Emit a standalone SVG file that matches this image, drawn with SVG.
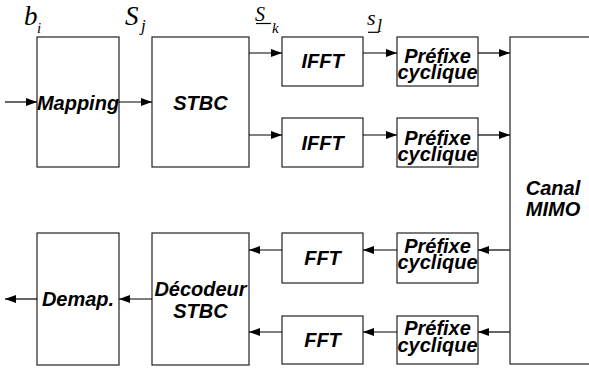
<svg xmlns="http://www.w3.org/2000/svg" width="589" height="369" viewBox="0 0 589 369">
<defs>
<marker id="ah" markerUnits="userSpaceOnUse" markerWidth="12" markerHeight="10" refX="11" refY="4" orient="auto">
<path d="M0,0 L11,4 L0,8 Z" fill="#000"/>
</marker>
<style>
.box{fill:#fff;stroke:#222;stroke-width:1.2}
.t{font-family:"Liberation Sans",Arial,sans-serif;font-weight:bold;font-style:italic;font-size:20px;text-anchor:middle;fill:#000}
.m{font-family:"Liberation Serif","Times New Roman",serif;font-style:italic;fill:#000}
.c{stroke:#000;stroke-width:1.2;fill:none;marker-end:url(#ah)}
.u{stroke:#000;stroke-width:1.2}
</style>
</defs>
<rect width="589" height="369" fill="#fff"/>
<g id="labels">
<text class="m" x="24" y="25" font-size="27">b</text>
<text class="m" x="37" y="32.5" font-size="15">i</text>
<text class="m" x="125" y="25" font-size="27">S</text>
<text class="m" x="141" y="31" font-size="17">j</text>
<text class="m" x="255" y="20.7" font-size="20">S</text>
<line class="u" x1="256" y1="23.5" x2="271" y2="23.5"/>
<text class="m" x="272" y="32.5" font-size="15">k</text>
<text class="m" x="367" y="25" font-size="22">s</text>
<line class="u" x1="368" y1="32.3" x2="379" y2="32.3"/>
<text class="m" x="377" y="32" font-size="18">l</text>
</g>
<g id="mapping"><rect class="box" x="37" y="37" width="82" height="130"/><text class="t" x="78" y="110">Mapping</text></g>
<g id="stbc"><rect class="box" x="152" y="37" width="97" height="130"/><text class="t" x="200.5" y="110">STBC</text></g>
<g id="ifft1"><rect class="box" x="282" y="37" width="81" height="49"/><text class="t" x="322.5" y="68">IFFT</text></g>
<g id="ifft2"><rect class="box" x="282" y="118" width="81" height="49"/><text class="t" x="322.5" y="150">IFFT</text></g>
<g id="cp1"><rect class="box" x="397" y="37" width="81" height="49"/><text class="t" x="437.5" y="63">Préfixe</text><text class="t" x="437.5" y="79">cyclique</text></g>
<g id="cp2"><rect class="box" x="397" y="118" width="81" height="49"/><text class="t" x="437.5" y="145">Préfixe</text><text class="t" x="437.5" y="161">cyclique</text></g>
<g id="canal"><rect class="box" x="510" y="37" width="100" height="327"/><text class="t" x="553" y="195">Canal</text><text class="t" x="553" y="216">MIMO</text></g>
<g id="cp3"><rect class="box" x="397" y="233" width="81" height="50"/><text class="t" x="437.5" y="253">Préfixe</text><text class="t" x="437.5" y="269">cyclique</text></g>
<g id="cp4"><rect class="box" x="397" y="316" width="81" height="48"/><text class="t" x="437.5" y="335">Préfixe</text><text class="t" x="437.5" y="352">cyclique</text></g>
<g id="fft1"><rect class="box" x="282" y="233" width="81" height="50"/><text class="t" x="322.5" y="265">FFT</text></g>
<g id="fft2"><rect class="box" x="282" y="316" width="81" height="48"/><text class="t" x="322.5" y="347">FFT</text></g>
<g id="decodeur"><rect class="box" x="152" y="233" width="97" height="132"/><text class="t" x="200.5" y="296">Décodeur</text><text class="t" x="200.5" y="318">STBC</text></g>
<g id="demap"><rect class="box" x="37" y="233" width="82" height="132"/><text class="t" x="78" y="306">Demap.</text></g>
<g id="connectors">
<line class="c" x1="5" y1="102" x2="37" y2="102"/>
<line class="c" x1="119" y1="102" x2="152" y2="102"/>
<line class="c" x1="249" y1="53" x2="282" y2="53"/>
<line class="c" x1="249" y1="135" x2="282" y2="135"/>
<line class="c" x1="363" y1="53" x2="397" y2="53"/>
<line class="c" x1="363" y1="135" x2="397" y2="135"/>
<line class="c" x1="478" y1="53" x2="510" y2="53"/>
<line class="c" x1="478" y1="135" x2="510" y2="135"/>
<line class="c" x1="510" y1="250" x2="478" y2="250"/>
<line class="c" x1="510" y1="332" x2="478" y2="332"/>
<line class="c" x1="397" y1="250" x2="363" y2="250"/>
<line class="c" x1="397" y1="332" x2="363" y2="332"/>
<line class="c" x1="282" y1="250" x2="249" y2="250"/>
<line class="c" x1="282" y1="332" x2="249" y2="332"/>
<line class="c" x1="152" y1="299" x2="119" y2="299"/>
<line class="c" x1="37" y1="299" x2="5" y2="299"/>
</g>
</svg>
